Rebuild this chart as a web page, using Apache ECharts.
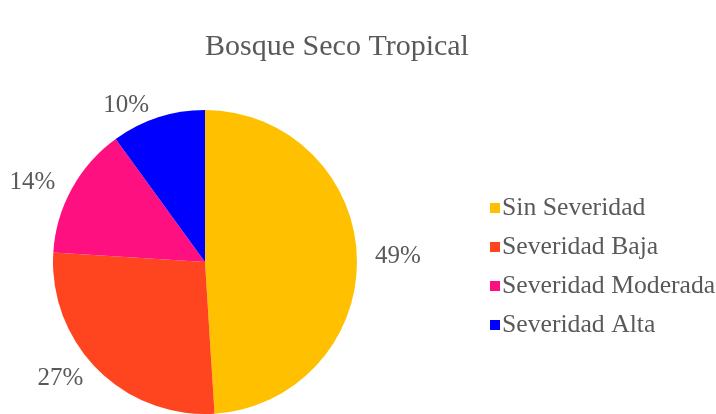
<!DOCTYPE html>
<html><head><meta charset="utf-8">
<script src="https://cdn.jsdelivr.net/npm/echarts@6/dist/echarts.min.js"></script>
<style>html,body{margin:0;padding:0;background:#fff}#c{width:716px;height:414px}</style>
</head><body><div id="c"></div>
<script>
const categories = ["Sin Severidad","Severidad Baja","Severidad Moderada","Severidad Alta"];
const values = [49, 27, 14, 10];
const colors = ["#FFC000","#FF4420","#FF1080","#0000FF"];
const titleText = "Bosque Seco Tropical";

const chart = echarts.init(document.getElementById('c'));
chart.setOption({
  backgroundColor: '#fff',
  animation: false,
  title: {
    text: titleText, left: 332, top: 27, textAlign: 'center',
    textStyle: {fontFamily: 'Liberation Serif', fontSize: 30, fontWeight: 'normal', color: '#595959'}
  },
  legend: {
    orient: 'vertical', left: 485, top: 190,
    itemWidth: 10, itemHeight: 10, itemGap: 13, icon: 'rect',
    textStyle: {fontFamily: 'Liberation Serif', fontSize: 25.7, lineHeight: 26, color: '#595959', padding: [0,0,0,-3]},
    data: categories
  },
  series: [{
    type: 'pie', center: [205, 262], radius: 152, startAngle: 90, clockwise: true,
    color: colors,
    label: {show: true, position: 'outside', formatter: '{c}%', overflow: 'none',
      fontFamily: 'Liberation Serif', fontSize: 25, color: '#595959'},
    labelLine: {show: false, length: 13, length2: 0},
    data: categories.map((n, i) => ({name: n, value: values[i]}))
  }]
});
</script></body></html>
